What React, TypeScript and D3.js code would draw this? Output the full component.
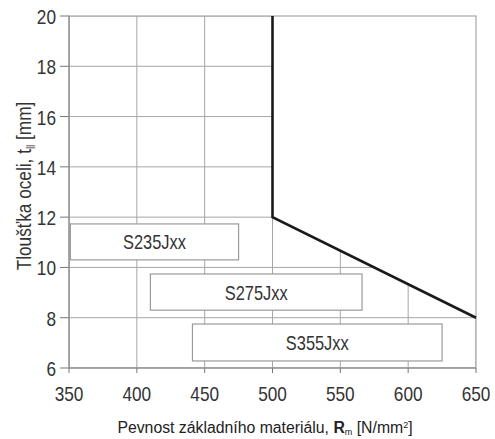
import React from 'react';
import * as d3 from 'd3';

const xTicks = [350, 400, 450, 500, 550, 600, 650];
const yTicks = [6, 8, 10, 12, 14, 16, 18, 20];

// limit curve: thickness vs tensile strength
const curveX = [500, 500, 650];
const curveY = [20, 12, 8];

const gradeNames = ['S235Jxx', 'S275Jxx', 'S355Jxx'];
const gradeFrom = [351, 410, 441];
const gradeTo = [475, 566, 625];
const gradeLow = [10.3, 8.3, 6.28];
const gradeHigh = [11.73, 9.74, 7.75];

const W = 495;
const H = 439;
const font = '"Liberation Sans", Arial, sans-serif';
const squeeze = 0.82; // no narrow font installed, so condense horizontally

// text squeezed horizontally around its anchor point
const Narrow = ({ x, y, anchor, size, children, rotate = 0 }: any) => (
  <text
    transform={`translate(${x},${y}) rotate(${rotate}) scale(${squeeze},1)`}
    textAnchor={anchor}
    fontFamily={font}
    fontSize={size}
    fill="#333"
  >
    {children}
  </text>
);

const App = () => {
  const x = d3.scaleLinear().domain([350, 650]).range([69, 476]);
  const y = d3.scaleLinear().domain([6, 20]).range([368, 16]);

  const curve = curveX.map((v, i) => [x(v), y(curveY[i])] as [number, number]);
  const line = d3.line();

  // grid is only drawn below / left of the curve
  const clipPts: [number, number][] = [
    [x(350), y(6)],
    [x(350), y(20)],
    ...curve,
    [x(650), y(6)],
  ];

  const grid = '#a6a6a6';

  return (
    <svg width={W} height={H} style={{ position: 'absolute', left: 0, top: 0 }}>
      <defs>
        <clipPath id="below">
          <polygon points={clipPts.map(p => p.join(',')).join(' ')} />
        </clipPath>
      </defs>

      <g clipPath="url(#below)">
        {xTicks.map(t => (
          <line key={'gx' + t} x1={x(t)} x2={x(t)} y1={y(6)} y2={y(20)} stroke={grid} strokeWidth={1} />
        ))}
        {yTicks.map(t => (
          <line key={'gy' + t} x1={x(350)} x2={x(650)} y1={y(t)} y2={y(t)} stroke={grid} strokeWidth={1} />
        ))}
      </g>

      <rect x={x(350)} y={y(20)} width={x(650) - x(350)} height={y(6) - y(20)}
        fill="none" stroke={grid} strokeWidth={1.2} />

      {/* ticks */}
      {xTicks.map(t => (
        <line key={'tx' + t} x1={x(t)} x2={x(t)} y1={y(6)} y2={y(6) + 5} stroke="#777" />
      ))}
      {yTicks.map(t => (
        <line key={'ty' + t} x1={x(350) - 9} x2={x(350)} y1={y(t)} y2={y(t)} stroke="#777" />
      ))}
      <line x1={x(350)} x2={x(350)} y1={y(20)} y2={y(6)} stroke="#888" />
      <line x1={x(350)} x2={x(650)} y1={y(6)} y2={y(6)} stroke="#888" />

      {xTicks.map(t => (
        <Narrow key={'lx' + t} x={x(t)} y={401} anchor="middle" size={21}>{t}</Narrow>
      ))}
      {yTicks.map(t => (
        <Narrow key={'ly' + t} x={56} y={y(t) + 8} anchor="end" size={21}>{t}</Narrow>
      ))}

      <path d={line(curve) || ''} fill="none" stroke="#1a1a1a" strokeWidth={2.6} strokeLinejoin="miter" />

      {gradeNames.map((n, i) => (
        <g key={n}>
          <rect x={x(gradeFrom[i])} y={y(gradeHigh[i])} width={x(gradeTo[i]) - x(gradeFrom[i])}
            height={y(gradeLow[i]) - y(gradeHigh[i])} fill="#fff" stroke="#9a9a9a" strokeWidth={1.2} />
          <Narrow x={(x(gradeFrom[i]) + x(gradeTo[i])) / 2} y={(y(gradeLow[i]) + y(gradeHigh[i])) / 2 + 7.5}
            anchor="middle" size={20}>{n}</Narrow>
        </g>
      ))}

      <Narrow x={31} y={186} rotate={-90} anchor="middle" size={21}>
        Tloušťka oceli, t<tspan fontSize={12} dy={4}>ll</tspan><tspan dy={-4}> [mm]</tspan>
      </Narrow>

      <text x={265} y={433} textAnchor="middle" fontFamily={font} fontSize={15.8} fill="#222">
        Pevnost základního materiálu, <tspan fontWeight="bold">R</tspan><tspan fontSize={9} dy={2}>m</tspan>
        <tspan dy={-2}> [N/mm</tspan><tspan fontSize={9} dy={-5}>2</tspan><tspan dy={5}>]</tspan>
      </text>
    </svg>
  );
};

export default App;
